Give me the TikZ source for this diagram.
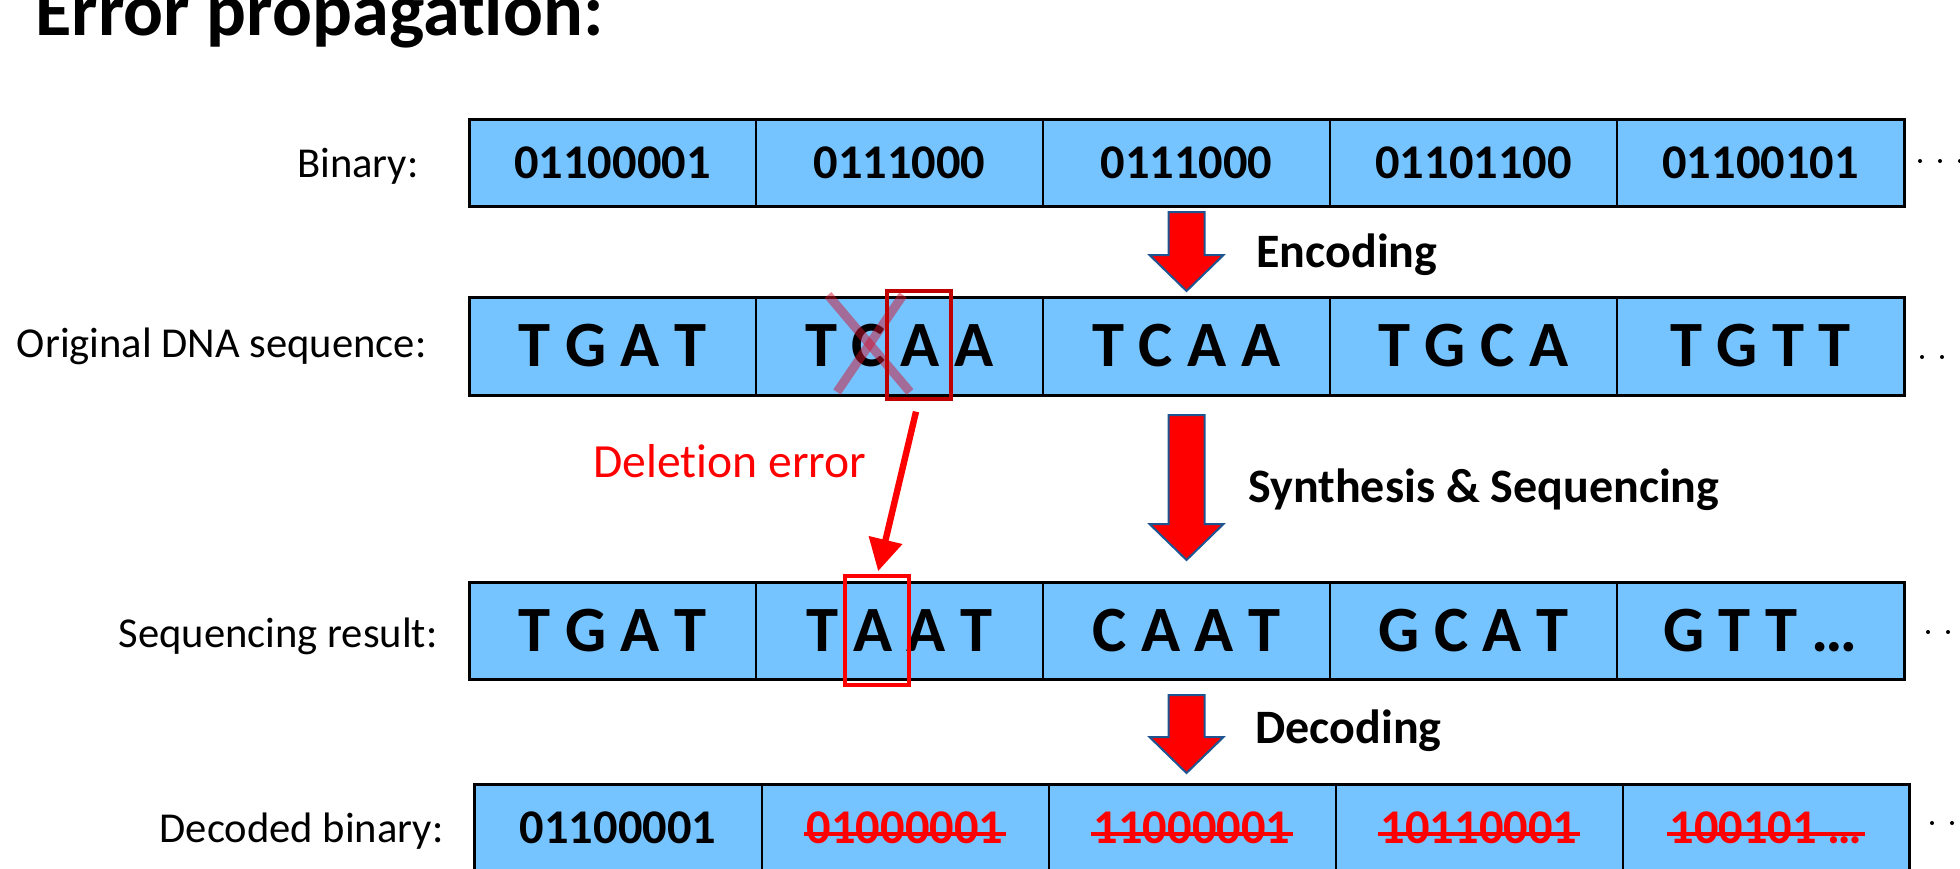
\documentclass[tikz,border=0pt]{standalone}
\usepackage{fontspec}
\setmainfont{Carlito}[Ligatures=NoCommon]
\usetikzlibrary{calc,arrows.meta}
\definecolor{cellblue}{RGB}{117,196,255}
\definecolor{boxred}{RGB}{192,0,0}
\definecolor{arrowedge}{RGB}{30,85,145}
\definecolor{crossred}{RGB}{210,20,50}
\tikzset{
  cell/.style={draw=black, line width=1pt, fill=cellblue, inner sep=0pt,
    outer sep=0pt, minimum width=143.5pt},
  rowA/.style={cell, minimum height=43.5pt},
  rowB/.style={cell, minimum height=49pt},
  rowC/.style={cell, minimum height=48.5pt},
  frame/.style={draw=black, line width=1.5pt},
  bintext/.style={font=\fontsize{24.2}{29}\selectfont\bfseries},
  dnatext/.style={font=\fontsize{32.3}{38}\selectfont\bfseries},
  badbin/.style={bintext, text=red, inner sep=0pt},
  strike/.style={draw=red, line width=2pt},
  rowlabel/.style={anchor=base east, inner sep=0pt,
    font=\fontsize{21.3}{25}\selectfont},
  steplabel/.style={anchor=base west, inner sep=0pt,
    font=\fontsize{24}{29}\selectfont\bfseries},
  blockarr/.style={fill=red, draw=arrowedge, line width=1pt, line join=miter},
  markbox/.style={draw, line width=1.75pt, inner sep=0pt, outer sep=0pt,
    minimum width=32pt, fill=none},
  crossmark/.style={draw=crossred, draw opacity=0.5, line width=4.5pt},
  delarrow/.style={draw=red, line width=3.2pt,
    -{Triangle[length=16pt,width=16.5pt]}},
  dot/.style={fill=black},
}
% block arrow from the middle of its top edge (#1) to its tip (#2)
\newcommand{\blockarrow}[2]{%
  \draw[blockarr] ($(#1)+(-18,0)$) -- ($(#1)+(18,0)$)
    -- ($(#2)+(18,-36)$) -- ($(#2)+(37,-36)$) -- (#2)
    -- ($(#2)+(-37,-36)$) -- ($(#2)+(-18,-36)$) -- cycle;}
\begin{document}
\begin{tikzpicture}[x=0.5pt, y=-0.5pt]
\useasboundingbox (0,0) rectangle (1960,868);
\clip (0,0) rectangle (1960,868);

% title
\node[anchor=base west, inner sep=0pt,
      font=\fontsize{37.2}{44}\selectfont\bfseries] (title) at (35,35)
      {Error propagation:};

% row labels
\node[rowlabel] (lb) at (419,177) {Binary:};
\node[rowlabel] (ld) at (427,357) {Original DNA sequence:};
\node[rowlabel] (ls) at (438,647) {Sequencing result:};
\node[rowlabel] (lo) at (444,842) {Decoded binary:};

% binary input
\node[rowA, bintext] (b1) at (612.5,162.5) {01100001};
\node[rowA, bintext] (b2) at (899.5,162.5) {0111000};
\node[rowA, bintext] (b3) at (1186.5,162.5) {0111000};
\node[rowA, bintext] (b4) at (1473.5,162.5) {01101100};
\node[rowA, bintext] (b5) at (1760.5,162.5) {01100101};
\draw[frame] (b1.north west) rectangle (b5.south east);

% original DNA sequence
\node[rowB, dnatext] (d1) at (612.5,346) {T G A T};
\node[rowB, dnatext] (d2) at (899.5,346) {T C A A};
\node[rowB, dnatext] (d3) at (1186.5,346) {T C A A};
\node[rowB, dnatext] (d4) at (1473.5,346) {T G C A};
\node[rowB, dnatext] (d5) at (1760.5,346) {T G T T};
\draw[frame] (d1.north west) rectangle (d5.south east);

% sequencing result
\node[rowC, dnatext] (s1) at (612.5,630.5) {T G A T};
\node[rowC, dnatext] (s2) at (899.5,630.5) {T A A T};
\node[rowC, dnatext] (s3) at (1186.5,630.5) {C A A T};
\node[rowC, dnatext] (s4) at (1473.5,630.5) {G C A T};
\node[rowC, dnatext] (s5) at (1760.5,630.5) {G T T …};
\draw[frame] (s1.north west) rectangle (s5.south east);

% decoded binary
\node[rowA] (o1) at (618,827.5) {};
\node[rowA] (o2) at (905,827.5) {};
\node[rowA] (o3) at (1192,827.5) {};
\node[rowA] (o4) at (1479,827.5) {};
\node[rowA] (o5) at (1766,827.5) {};
\draw[frame] (o1.north west) rectangle (o5.south east);
\node[bintext, inner sep=0pt] (t1) at (o1) {01100001};
\node[badbin] (t2) at (o2) {01000001};
\node[badbin] (t3) at (o3) {11000001};
\node[badbin] (t4) at (o4) {10110001};
\node[badbin] (t5) at (o5) {100101 …};
\foreach \t in {t2,t3,t4,t5}
  \draw[strike] ($(\t.south west)+(-2,-10)$) -- ($(\t.south east)+(2,-10)$);

% continuation dots
\foreach \x in {1920,1940,1960} \fill[dot] (\x,161) circle (1pt);
\foreach \x in {1922,1942,1962} \fill[dot] (\x,357) circle (1pt);
\foreach \x in {1928,1948,1968} \fill[dot] (\x,632) circle (1pt);
\foreach \x in {1932,1952,1972} \fill[dot] (\x,823) circle (1pt);

% processing steps
\coordinate (a1top) at ($(b3.south)+(0,6)$);
\coordinate (a1tip) at ($(d3.north)+(0,-6)$);
\coordinate (a2top) at ($(d3.south)+(0,20)$);
\coordinate (a2tip) at ($(s3.north)+(0,-22)$);
\coordinate (a3top) at ($(s3.south)+(0,16)$);
\coordinate (a3tip) at ($(s3.south)+(0,94)$);
\blockarrow{a1top}{a1tip}
\blockarrow{a2top}{a2tip}
\blockarrow{a3top}{a3tip}
\node[steplabel] (enc) at (1256,267) {Encoding};
\node[steplabel] (syn) at (1248,502) {Synthesis \& Sequencing};
\node[steplabel] (dec) at (1255,743) {Decoding};

% the deleted base and where the reading shifts
\draw[crossmark] (828,295) -- (910,392);
\draw[crossmark] (903,295) -- (837,392);
\node[markbox, draw=boxred, minimum height=54pt] (errA) at (919,345) {};
\node[markbox, draw=red, minimum height=54.5pt] (errB) at (877,630.5) {};
\draw[delarrow, shorten <=6.5pt, shorten >=2.5pt] (errA.south) -- (errB.north);
\node[anchor=base west, inner sep=0pt, text=red,
      font=\fontsize{23.8}{28}\selectfont] (del) at (593,477) {Deletion error};
\end{tikzpicture}
\end{document}
